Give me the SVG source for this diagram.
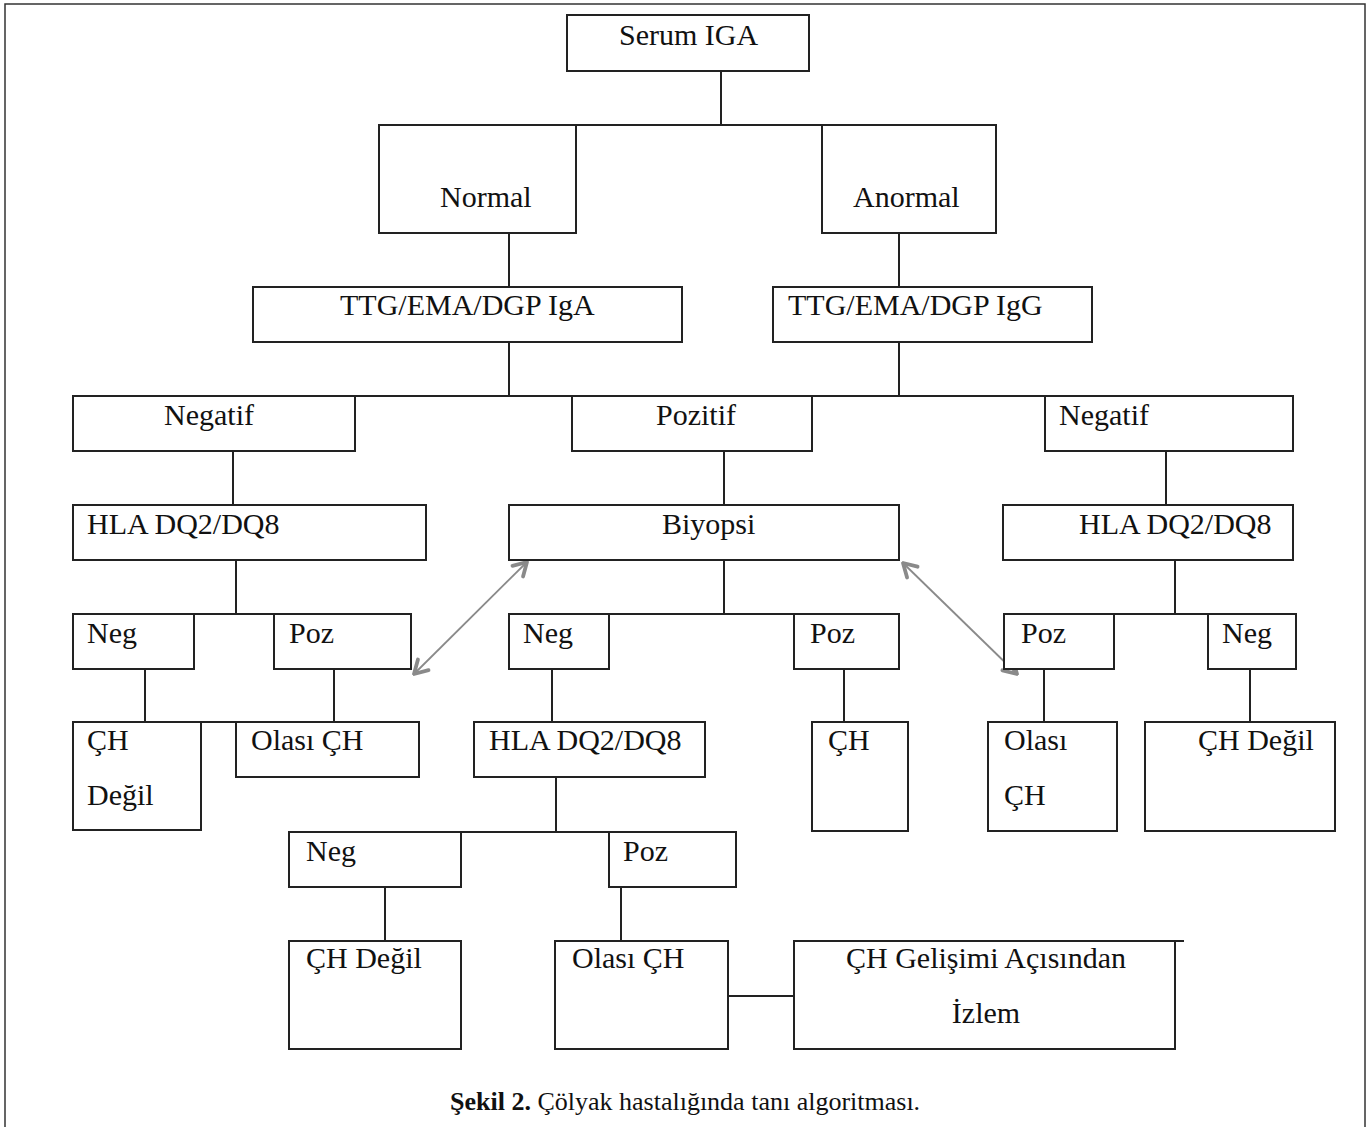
<svg xmlns="http://www.w3.org/2000/svg" width="1368" height="1127" viewBox="0 0 1368 1127">
<style>
.b{fill:#fff;stroke:#222;stroke-width:2}
.c{fill:none;stroke:#222;stroke-width:2}
.t{font-family:"Liberation Serif","Times New Roman",serif;font-size:30px;fill:#111}
.m{text-anchor:middle}
.cap{font-family:"Liberation Serif","Times New Roman",serif;font-size:26px;fill:#111}
.ar{fill:none;stroke:#8a8a8a;stroke-width:1.8}
</style>
<defs>
<marker id="ah" viewBox="0 0 20 20" refX="18" refY="10" markerWidth="20" markerHeight="20" markerUnits="userSpaceOnUse" orient="auto-start-reverse">
<path d="M5,2.5 L18,10 L5,17.5" fill="none" stroke="#8a8a8a" stroke-width="3.8" stroke-linejoin="round" stroke-linecap="round"/>
</marker>
</defs>
<rect x="0" y="0" width="1368" height="1127" fill="#fff"/>
<rect x="5" y="4" width="1360" height="1140" fill="none" stroke="#333" stroke-width="1.5"/>

<g id="connectors">
<path class="c" d="M721,71 V125 M379,125 H996"/>
<path class="c" d="M509,233 V287 M899,233 V287"/>
<path class="c" d="M509,342 V396 M899,342 V396 M73,396 H1293"/>
<path class="c" d="M233,451 V505 M724,451 V505 M1166,451 V505"/>
<path class="c" d="M236,560 V614 M73,614 H411"/>
<path class="c" d="M724,560 V614 M509,614 H899"/>
<path class="c" d="M1175,560 V614 M1004,614 H1296"/>
<path class="c" d="M145,669 V722 M334,669 V722 M73,722 H419"/>
<path class="c" d="M552,669 V722 M844,669 V722"/>
<path class="c" d="M1044,669 V722 M1250,669 V722"/>
<path class="c" d="M556,777 V832 M289,832 H736"/>
<path class="c" d="M385,887 V941 M621,887 V941"/>
<path class="c" d="M728,996 H794"/>
<line class="ar" x1="527" y1="562" x2="414" y2="674" marker-start="url(#ah)" marker-end="url(#ah)"/>
<line class="ar" x1="903" y1="563" x2="1017" y2="674" marker-start="url(#ah)" marker-end="url(#ah)"/>
</g>

<g id="serum-iga"><rect class="b" x="567" y="15" width="242" height="56"/><text class="t" x="619" y="45">Serum IGA</text></g>
<g id="normal"><rect class="b" x="379" y="125" width="197" height="108"/><text class="t" x="440" y="207">Normal</text></g>
<g id="anormal"><rect class="b" x="822" y="125" width="174" height="108"/><text class="t" x="853" y="207">Anormal</text></g>
<g id="ttg-iga"><rect class="b" x="253" y="287" width="429" height="55"/><text class="t" x="340" y="315">TTG/EMA/DGP IgA</text></g>
<g id="ttg-igg"><rect class="b" x="773" y="287" width="319" height="55"/><text class="t" x="788" y="315">TTG/EMA/DGP IgG</text></g>

<g id="negatif-left"><rect class="b" x="73" y="396" width="282" height="55"/><text class="t" x="164" y="425">Negatif</text></g>
<g id="pozitif"><rect class="b" x="572" y="396" width="240" height="55"/><text class="t" x="656" y="425">Pozitif</text></g>
<g id="negatif-right"><rect class="b" x="1045" y="396" width="248" height="55"/><text class="t" x="1059" y="425">Negatif</text></g>

<g id="hla-left"><rect class="b" x="73" y="505" width="353" height="55"/><text class="t" x="87" y="534">HLA DQ2/DQ8</text></g>
<g id="biyopsi"><rect class="b" x="509" y="505" width="390" height="55"/><text class="t" x="662" y="534">Biyopsi</text></g>
<g id="hla-right"><rect class="b" x="1003" y="505" width="290" height="55"/><text class="t" x="1079" y="534">HLA DQ2/DQ8</text></g>

<g id="neg-left"><rect class="b" x="73" y="614" width="121" height="55"/><text class="t" x="87" y="643">Neg</text></g>
<g id="poz-left"><rect class="b" x="274" y="614" width="137" height="55"/><text class="t" x="289" y="643">Poz</text></g>
<g id="neg-mid"><rect class="b" x="509" y="614" width="100" height="55"/><text class="t" x="523" y="643">Neg</text></g>
<g id="poz-mid"><rect class="b" x="794" y="614" width="105" height="55"/><text class="t" x="810" y="643">Poz</text></g>
<g id="poz-right"><rect class="b" x="1004" y="614" width="110" height="55"/><text class="t" x="1021" y="643">Poz</text></g>
<g id="neg-right"><rect class="b" x="1208" y="614" width="88" height="55"/><text class="t" x="1222" y="643">Neg</text></g>

<g id="ch-degil-left"><rect class="b" x="73" y="722" width="128" height="108"/><text class="t" x="87" y="750">ÇH</text><text class="t" x="87" y="805">Değil</text></g>
<g id="olasi-ch-left"><rect class="b" x="236" y="722" width="183" height="55"/><text class="t" x="251" y="750">Olası ÇH</text></g>
<g id="hla-mid"><rect class="b" x="474" y="722" width="231" height="55"/><text class="t" x="489" y="750">HLA DQ2/DQ8</text></g>
<g id="ch-mid"><rect class="b" x="812" y="722" width="96" height="109"/><text class="t" x="828" y="750">ÇH</text></g>
<g id="olasi-ch-right"><rect class="b" x="988" y="722" width="129" height="109"/><text class="t" x="1004" y="750">Olası</text><text class="t" x="1004" y="805">ÇH</text></g>
<g id="ch-degil-right"><rect class="b" x="1145" y="722" width="190" height="109"/><text class="t" x="1198" y="750">ÇH Değil</text></g>

<g id="neg-bottom"><rect class="b" x="289" y="832" width="172" height="55"/><text class="t" x="306" y="861">Neg</text></g>
<g id="poz-bottom"><rect class="b" x="609" y="832" width="127" height="55"/><text class="t" x="623" y="861">Poz</text></g>
<g id="ch-degil-bottom"><rect class="b" x="289" y="941" width="172" height="108"/><text class="t" x="306" y="968">ÇH Değil</text></g>
<g id="olasi-ch-bottom"><rect class="b" x="555" y="941" width="173" height="108"/><text class="t" x="572" y="968">Olası ÇH</text></g>
<g id="izlem"><rect class="b" x="794" y="941" width="381" height="108"/><path class="c" d="M1175,941 H1184"/><text class="t m" x="986" y="968">ÇH Gelişimi Açısından</text><text class="t m" x="986" y="1023">İzlem</text></g>

<text class="cap" x="450" y="1110"><tspan font-weight="bold">Şekil 2.</tspan> Çölyak hastalığında tanı algoritması.</text>
</svg>
